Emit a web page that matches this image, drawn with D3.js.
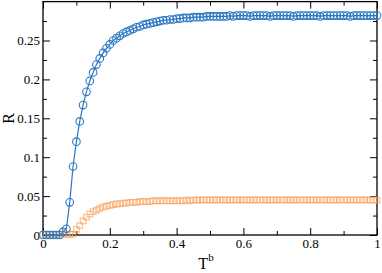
<!DOCTYPE html>
<html>
<head>
<meta charset="utf-8">
<script src="https://cdn.jsdelivr.net/npm/d3@7"></script>
<style>
  body { margin: 0; background: #fff; }
</style>
</head>
<body>
<div id="svg-container"></div>
<script>
// data: T^b grid and the two R series
const tValues = [
  0.00, 0.01, 0.02, 0.03, 0.04, 0.05, 0.06, 0.07, 0.08, 0.09,
  0.10, 0.11, 0.12, 0.13, 0.14, 0.15, 0.16, 0.17, 0.18, 0.19,
  0.20, 0.21, 0.22, 0.23, 0.24, 0.25, 0.26, 0.27, 0.28, 0.29,
  0.30, 0.31, 0.32, 0.33, 0.34, 0.35, 0.36, 0.37, 0.38, 0.39,
  0.40, 0.41, 0.42, 0.43, 0.44, 0.45, 0.46, 0.47, 0.48, 0.49,
  0.50, 0.51, 0.52, 0.53, 0.54, 0.55, 0.56, 0.57, 0.58, 0.59,
  0.60, 0.61, 0.62, 0.63, 0.64, 0.65, 0.66, 0.67, 0.68, 0.69,
  0.70, 0.71, 0.72, 0.73, 0.74, 0.75, 0.76, 0.77, 0.78, 0.79,
  0.80, 0.81, 0.82, 0.83, 0.84, 0.85, 0.86, 0.87, 0.88, 0.89,
  0.90, 0.91, 0.92, 0.93, 0.94, 0.95, 0.96, 0.97, 0.98, 0.99,
  1.00
];

const blueR = [
  0.000, 0.000, 0.000, 0.000, 0.000, 0.000, 0.004, 0.008, 0.042, 0.088,
  0.120, 0.146, 0.167, 0.184, 0.198, 0.209, 0.219, 0.227, 0.234, 0.240,
  0.245, 0.250, 0.253, 0.256, 0.259, 0.261, 0.263, 0.265, 0.267, 0.268,
  0.270, 0.271, 0.272, 0.273, 0.274, 0.275, 0.276, 0.276, 0.277, 0.277,
  0.278, 0.278, 0.279, 0.279, 0.279, 0.280, 0.280, 0.280, 0.280, 0.281,
  0.281, 0.281, 0.281, 0.281, 0.281, 0.281, 0.282, 0.281, 0.282, 0.282,
  0.282, 0.282, 0.281, 0.282, 0.282, 0.282, 0.282, 0.282, 0.281, 0.282,
  0.282, 0.282, 0.282, 0.282, 0.282, 0.281, 0.282, 0.282, 0.282, 0.282,
  0.282, 0.282, 0.282, 0.281, 0.282, 0.282, 0.282, 0.282, 0.282, 0.282,
  0.282, 0.282, 0.281, 0.282, 0.282, 0.282, 0.282, 0.282, 0.282, 0.282,
  0.282
];

const orangeR = [
  0.001, 0.001, 0.001, 0.001, 0.001, 0.001, 0.001, 0.001, 0.001, 0.001,
  0.007, 0.012, 0.018, 0.023, 0.027, 0.030, 0.032, 0.034, 0.036, 0.037,
  0.038, 0.039, 0.040, 0.040, 0.041, 0.041, 0.042, 0.042, 0.042, 0.043,
  0.043, 0.043, 0.043, 0.044, 0.044, 0.044, 0.044, 0.044, 0.044, 0.044,
  0.044, 0.044, 0.044, 0.045, 0.044, 0.045, 0.045, 0.045, 0.045, 0.045,
  0.045, 0.045, 0.045, 0.045, 0.045, 0.045, 0.045, 0.045, 0.045, 0.045,
  0.045, 0.045, 0.045, 0.045, 0.045, 0.045, 0.045, 0.045, 0.045, 0.045,
  0.045, 0.045, 0.045, 0.045, 0.045, 0.045, 0.045, 0.045, 0.045, 0.045,
  0.045, 0.045, 0.045, 0.045, 0.045, 0.045, 0.045, 0.045, 0.045, 0.045,
  0.045, 0.045, 0.045, 0.045, 0.045, 0.045, 0.045, 0.045, 0.045, 0.045,
  0.045
];

const xTicks = [0, 0.2, 0.4, 0.6, 0.8, 1];
const xTickLabels = ["0", "0.2", "0.4", "0.6", "0.8", "1"];
const yTicks = [0, 0.05, 0.1, 0.15, 0.2, 0.25];
const yTickLabels = ["0", "0.05", "0.1", "0.15", "0.2", "0.25"];

const serif = "'Liberation Serif', 'DejaVu Serif', serif";

// dimensions
const dim = {
    width: 334,
    height: 233.4,
    margin: { top: 1.6, right: 5, bottom: 38, left: 43 }
}

const svg = d3.select("#svg-container")
    .append("svg")
        .attr("width", 382)
        .attr("height", 273)
    .append("g")
        .attr("transform", `translate(${dim.margin.left}, ${dim.margin.top})`)

// scales
const xScale = d3.scaleLinear().domain([0, 1]).range([0, dim.width]);
const yScale = d3.scaleLinear().domain([0, 0.3]).range([dim.height, 0]);

const blue = "#2c79c2";
const orange = "#f8a35e";

// axes (ticks inward, on all four sides)
const major = 7, minor = 4;
const xMinor = d3.range(0.1, 1, 0.2);
const yMinor = d3.range(0.025, 0.3, 0.05);

function tickAxis(axisFn, scale, values, size, fmt) {
    const a = axisFn(scale).tickValues(values).tickSizeInner(size).tickSizeOuter(0).tickPadding(3);
    return fmt ? a.tickFormat(fmt) : a.tickFormat("");
}

// bottom
svg.append('g').attr("transform", `translate(0, ${dim.height})`)
    .call(tickAxis(d3.axisBottom, xScale, xTicks, -major, (d, i) => xTickLabels[i]))
    .call(g => g.selectAll("text").attr("dy", "0.71em").attr("y", 4));
svg.append('g').attr("transform", `translate(0, ${dim.height})`)
    .call(tickAxis(d3.axisBottom, xScale, xMinor, -minor));
// top
svg.append('g').call(tickAxis(d3.axisTop, xScale, xTicks, -major));
svg.append('g').call(tickAxis(d3.axisTop, xScale, xMinor, -minor));
// left
svg.append('g')
    .call(tickAxis(d3.axisLeft, yScale, yTicks, -major, (d, i) => yTickLabels[i]))
    .call(g => g.selectAll("text").attr("x", -3));
svg.append('g').call(tickAxis(d3.axisLeft, yScale, yMinor, -minor));
// right
svg.append('g').attr("transform", `translate(${dim.width}, 0)`)
    .call(tickAxis(d3.axisRight, yScale, yTicks, -major));
svg.append('g').attr("transform", `translate(${dim.width}, 0)`)
    .call(tickAxis(d3.axisRight, yScale, yMinor, -minor));

svg.selectAll(".domain").remove();
svg.selectAll(".tick line").attr("stroke", "#000").attr("stroke-width", 1);
svg.selectAll(".tick text")
    .style("font-family", serif)
    .style("font-size", "13px")
    .attr("fill", "#000");

// frame
svg.append("rect")
    .attr("width", dim.width)
    .attr("height", dim.height)
    .attr("fill", "none")
    .attr("stroke", "#000")
    .attr("stroke-width", 1.3);

// orange squares
const sq = 5.6;
svg.append('g')
    .selectAll('rect')
    .data(tValues)
    .join('rect')
        .attr('x', (d, i) => xScale(d) - sq / 2)
        .attr('y', (d, i) => yScale(orangeR[i]) - sq / 2)
        .attr('width', sq)
        .attr('height', sq)
        .attr('fill', 'none')
        .attr('stroke', orange)
        .attr('stroke-opacity', 0.75)
        .attr('stroke-width', 1.1);

// blue line + circles
const line = d3.line()
    .x((d, i) => xScale(d))
    .y((d, i) => yScale(blueR[i]));

svg.append("path")
    .datum(tValues)
    .attr("d", line)
    .attr("fill", "none")
    .attr("stroke", blue)
    .attr("stroke-width", 1.2);

svg.append('g')
    .selectAll('circle')
    .data(tValues)
    .join('circle')
        .attr('cx', d => xScale(d))
        .attr('cy', (d, i) => yScale(blueR[i]))
        .attr('r', 3.8)
        .attr('fill', 'none')
        .attr('stroke', blue)
        .attr('stroke-width', 1.1);

// axis titles
svg.append("text")
    .attr("transform", `translate(-29, ${yScale(0.15)}) rotate(-90)`)
    .attr("text-anchor", "middle")
    .style("font-family", serif)
    .style("font-size", "16px")
    .text("R");

const xt = svg.append("text")
    .attr("x", xScale(0.5) - 4)
    .attr("y", 267)
    .attr("text-anchor", "middle")
    .style("font-family", serif)
    .style("font-size", "16px");
xt.append("tspan").text("T");
xt.append("tspan").attr("dy", -8).style("font-size", "11px").text("b");
</script>
</body>
</html>
